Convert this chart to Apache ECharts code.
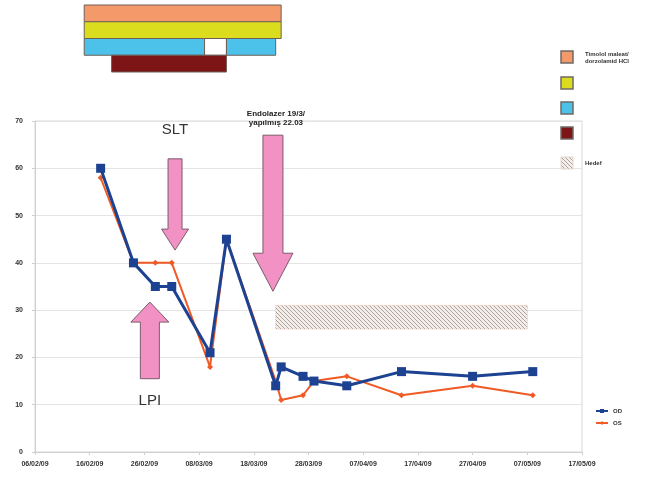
<!DOCTYPE html>
<html>
<head>
<meta charset="utf-8">
<script src="https://cdn.jsdelivr.net/npm/echarts@6/dist/echarts.min.js"></script>
<style>
html, body { margin: 0; padding: 0; background: #fff; }
#chart { width: 670px; height: 477px; }
</style>
</head>
<body>
<div id="chart"></div>
<script>
// göz içi basınç ölçümleri (OD / OS)
var startDate = '2009-02-06';
var endDate = '2009-05-17';
var visitDates = ['2009-02-18', '2009-02-24', '2009-02-28', '2009-03-03', '2009-03-10', '2009-03-13',
	'2009-03-22', '2009-03-23', '2009-03-27', '2009-03-29', '2009-04-04', '2009-04-14',
	'2009-04-27', '2009-05-08'];
var odValues = [60, 40, 35, 35, 21, 45, 14, 18, 16, 15, 14, 17, 16, 17];
var osValues = [58, 40, 40, 40, 18, 45, 15, 11, 12, 15, 16, 12, 14, 12];
var yTicks = [0, 10, 20, 30, 40, 50, 60, 70];

// ilaç kullanım süreleri (üst çubuklar)
var barRows = [0, 1, 2, 2, 2, 3];
var barKinds = ['drug1', 'drug2', 'drug3', 'gap', 'drug3', 'drug4'];
var barStarts = ['2009-02-15', '2009-02-15', '2009-02-15', '2009-03-09', '2009-03-13', '2009-02-20'];
var barEnds = ['2009-03-23', '2009-03-23', '2009-03-09', '2009-03-13', '2009-03-22', '2009-03-13'];

// hedef aralığı
var targetDates = ['2009-03-22', '2009-05-07'];
var targetRange = [26, 31];

// oklar
var arrowLabels = ['SLT', 'LPI', ''];
var arrowDays = [25.6, 21, 43.5];
var arrowFrom = [62, 15.5, 67];
var arrowTo = [42.7, 31.7, 34];

var legendNames = ['Timolol maleat/\ndorzolamid HCl', '', '', '', 'Hedef'];

var kindColors = {
	drug1 : '#f4996a',
	drug2 : '#dcdc1e',
	drug3 : '#4cc2ea',
	gap : '#ffffff',
	drug4 : '#7d1416'
};

function dayOf(s) {
	var p = s.split('-');
	var base = startDate.split('-');
	return (Date.UTC(+p[0], +p[1] - 1, +p[2]) - Date.UTC(+base[0], +base[1] - 1, +base[2])) / 86400000;
}

function fmtDay(v) {
	var base = startDate.split('-');
	var d = new Date(Date.UTC(+base[0], +base[1] - 1, +base[2]) + v * 86400000);
	var dd = ('0' + d.getUTCDate()).slice(-2);
	var mm = ('0' + (d.getUTCMonth() + 1)).slice(-2);
	var yy = ('' + d.getUTCFullYear()).slice(-2);
	return dd + '/' + mm + '/' + yy;
}

function hatchPattern() {
	var c = document.createElement('canvas');
	c.width = 4;
	c.height = 4;
	var ctx = c.getContext('2d');
	ctx.fillStyle = '#f4eeea';
	ctx.fillRect(0, 0, 4, 4);
	ctx.strokeStyle = '#aaa3a0';
	ctx.lineWidth = 1;
	ctx.beginPath();
	ctx.moveTo(-1, -1);
	ctx.lineTo(5, 5);
	ctx.moveTo(-1, 3);
	ctx.lineTo(1, 5);
	ctx.moveTo(3, -1);
	ctx.lineTo(5, 1);
	ctx.stroke();
	return c;
}

var pattern = { image : hatchPattern(), repeat : 'repeat' };
var xMax = dayOf(endDate);

var odData = [], osData = [], barData = [];
for (var i = 0; i < visitDates.length; i++) {
	odData.push([dayOf(visitDates[i]), odValues[i]]);
	osData.push([dayOf(visitDates[i]), osValues[i]]);
}
for (var i = 0; i < barRows.length; i++) {
	barData.push([dayOf(barStarts[i]), dayOf(barEnds[i]), barRows[i], i]);
}

var chart = echarts.init(document.getElementById('chart'));

var labelStyle = {
	fontSize : 7,
	fontWeight : 'bold',
	color : '#333',
	fontFamily : 'Liberation Sans'
};

var option = {
	animation : false,
	backgroundColor : '#fff',
	grid : [ {
		left : 35,
		right : 88,
		top : 121,
		bottom : 25,
		show : true,
		borderColor : '#d8d8d8',
		borderWidth : 1
	}, {
		left : 35,
		right : 88,
		top : 5,
		height : 67
	} ],
	xAxis : [ {
		type : 'value',
		gridIndex : 0,
		min : 0,
		max : xMax,
		interval : 10,
		axisLine : { lineStyle : { color : '#cfcfcf' } },
		axisTick : { show : true, length : 3, lineStyle : { color : '#cfcfcf' } },
		splitLine : { show : false },
		axisLabel : Object.assign({ margin : 9, formatter : fmtDay }, labelStyle)
	}, {
		type : 'value',
		gridIndex : 1,
		min : 0,
		max : xMax,
		show : false
	} ],
	yAxis : [ {
		type : 'value',
		gridIndex : 0,
		min : yTicks[0],
		max : yTicks[yTicks.length - 1],
		interval : 10,
		axisLine : { show : true, lineStyle : { color : '#cfcfcf' } },
		axisTick : { show : true, length : 3, lineStyle : { color : '#cfcfcf' } },
		splitLine : { lineStyle : { color : '#e4e4e4' } },
		axisLabel : Object.assign({ margin : 12 }, labelStyle)
	}, {
		type : 'category',
		gridIndex : 1,
		data : [0, 1, 2, 3],
		inverse : true,
		show : false
	} ],
	legend : {
		data : ['OD', 'OS'],
		orient : 'vertical',
		left : 590,
		top : 403,
		itemWidth : 12,
		itemHeight : 5,
		itemGap : 6,
		textStyle : { fontSize : 6, fontWeight : 'bold', color : '#333' }
	},
	series : [ {
		name : 'OS',
		type : 'line',
		xAxisIndex : 0,
		yAxisIndex : 0,
		data : osData,
		symbol : 'diamond',
		symbolSize : 6,
		color : '#f05a24',
		lineStyle : { width : 2, color : '#f05a24' },
		z : 2
	}, {
		name : 'OD',
		type : 'line',
		xAxisIndex : 0,
		yAxisIndex : 0,
		data : odData,
		symbol : 'rect',
		symbolSize : 9,
		color : '#1d4292',
		lineStyle : { width : 3, color : '#1d4292' },
		z : 3,
		markArea : {
			silent : true,
			itemStyle : {
				color : pattern,
				borderColor : '#e6c2b0',
				borderWidth : 1,
				borderType : 'dotted'
			},
			data : [ [ {
				coord : [dayOf(targetDates[0]), targetRange[1]]
			}, {
				coord : [dayOf(targetDates[1]), targetRange[0]]
			} ] ]
		}
	}, {
		name : 'ilaç',
		type : 'custom',
		xAxisIndex : 1,
		yAxisIndex : 1,
		data : barData,
		renderItem : function(params, api) {
			var p0 = api.coord([api.value(0), api.value(2)]);
			var p1 = api.coord([api.value(1), api.value(2)]);
			var h = api.size([0, 1])[1];
			var kind = barKinds[api.value(3)];
			return {
				type : 'rect',
				shape : { x : p0[0], y : p0[1] - h / 2, width : p1[0] - p0[0], height : h },
				style : { fill : kindColors[kind], stroke : '#6f5f58', lineWidth : 1 }
			};
		}
	} ]
};
chart.setOption(option);

// oklar ve sağdaki açıklama kutuları
function arrowShape(x, yFrom, yTo, sw, hw, hl) {
	var dir = yTo > yFrom ? 1 : -1;
	var yb = yTo - dir * hl;
	return [[x - sw, yFrom], [x + sw, yFrom], [x + sw, yb], [x + hw, yb], [x, yTo],
		[x - hw, yb], [x - sw, yb]];
}

var arrowSize = [[7, 13.5, 21], [9.5, 19, 20], [10, 20, 38]];
var graphics = [];
for (var i = 0; i < arrowDays.length; i++) {
	var a = chart.convertToPixel({ gridIndex : 0 }, [arrowDays[i], arrowFrom[i]]);
	var b = chart.convertToPixel({ gridIndex : 0 }, [arrowDays[i], arrowTo[i]]);
	graphics.push({
		type : 'polygon',
		shape : { points : arrowShape(a[0], a[1], b[1], arrowSize[i][0], arrowSize[i][1], arrowSize[i][2]) },
		style : { fill : '#f291c4', stroke : '#7c5a6c', lineWidth : 1 },
		z : 10
	});
}
var slt = chart.convertToPixel({ gridIndex : 0 }, [arrowDays[0], arrowFrom[0]]);
graphics.push({
	type : 'text', x : slt[0], y : slt[1] - 36,
	style : { text : arrowLabels[0], fontSize : 15, fill : '#333', align : 'center', fontFamily : 'Liberation Sans' }
});
var lpi = chart.convertToPixel({ gridIndex : 0 }, [arrowDays[1], arrowFrom[1]]);
graphics.push({
	type : 'text', x : lpi[0], y : lpi[1] + 15,
	style : { text : arrowLabels[1], fontSize : 15, fill : '#333', align : 'center', fontFamily : 'Liberation Sans' }
});
var big = chart.convertToPixel({ gridIndex : 0 }, [arrowDays[2], arrowFrom[2]]);
graphics.push({
	type : 'text', x : big[0] + 3, y : big[1] - 26,
	style : { text : 'Endolazer 19/3/\nyapılmış 22.03', fontSize : 8, fontWeight : 'bold', lineHeight : 9,
		fill : '#222', align : 'center', fontFamily : 'Liberation Sans' }
});

var legendColors = [kindColors.drug1, kindColors.drug2, kindColors.drug3, kindColors.drug4, pattern];
var legendTops = [51, 77, 102, 127, 157];
for (var i = 0; i < legendColors.length; i++) {
	graphics.push({
		type : 'rect',
		shape : { x : 561, y : legendTops[i], width : 12, height : 12 },
		style : { fill : legendColors[i], stroke : i == 4 ? '#e6d6cc' : '#6f6a66', lineWidth : i == 4 ? 1 : 1.5 }
	});
	if (legendNames[i]) {
		graphics.push({
			type : 'text', x : 585, y : legendTops[i] + (i == 0 ? 0 : 3),
			style : { text : legendNames[i], fontSize : 6, fontWeight : 'bold', lineHeight : 7,
				fill : '#333', fontFamily : 'Liberation Sans' }
		});
	}
}
chart.setOption({ graphic : graphics });
</script>
</body>
</html>
